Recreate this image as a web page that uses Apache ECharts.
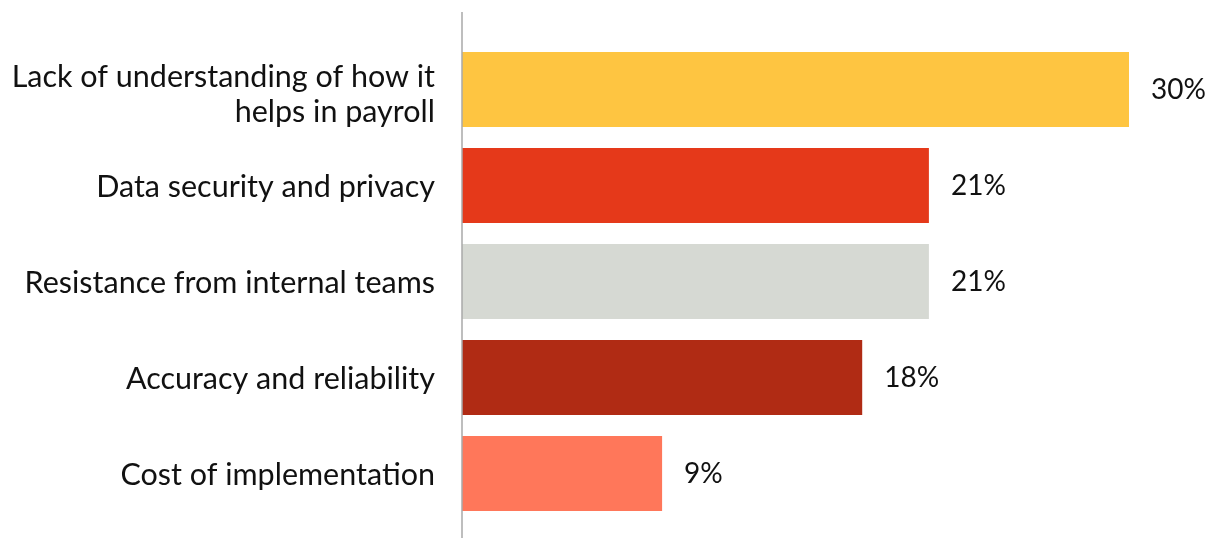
<!DOCTYPE html>
<html>
<head>
<meta charset="utf-8">
<script src="https://cdn.jsdelivr.net/npm/echarts@6/dist/echarts.min.js"></script>
<style>
  html, body { margin: 0; padding: 0; background: #ffffff; }
  #chart { width: 1216px; height: 538px; }
</style>
</head>
<body>
<div id="chart"></div>
<script>
// Barriers to adopting AI in payroll (share of respondents, %)
const categories = [
  'Lack of understanding of how it\nhelps in payroll',
  'Data security and privacy',
  'Resistance from internal teams',
  'Accuracy and reliability',
  'Cost of implementation'
];
const values = [30, 21, 21, 18, 9];
const barColors = ['#FEC541', '#E5391A', '#D6D9D3', '#B02B14', '#FF775A'];

const FONT = 'Lato, "Noto Sans", sans-serif';
const tokenStyle = { fontFamily: FONT, fontSize: 30.5, color: '#111111', lineHeight: 37, align: 'right' };

const chart = echarts.init(document.getElementById('chart'), null, { renderer: 'canvas' });

chart.setOption({
  animation: false,
  backgroundColor: '#ffffff',
  grid: { left: 462, right: 87, top: 41.5, bottom: 16.5, containLabel: false },
  xAxis: {
    type: 'value',
    min: 0,
    max: 30,
    show: false
  },
  yAxis: {
    type: 'category',
    data: categories,
    inverse: true,
    axisLine: { show: false },
    axisTick: { show: false },
    splitLine: { show: false },
    axisLabel: {
      margin: 27,
      color: '#111111',
      fontFamily: FONT,
      fontSize: 30.5,
      lineHeight: 37,
      align: 'right',
      // wrapped labels sit slightly lower in their band
      formatter: v => {
        const lines = v.split('\n');
        if (lines.length === 1) return '{one|' + v + '}';
        return lines.map((l, i) => (i === 0 ? '{first|' : '{t|') + l + '}').join('\n');
      },
      rich: {
        one: Object.assign({}, tokenStyle, { padding: [4, 0, 0, 0] }),
        first: Object.assign({}, tokenStyle, { padding: [12, 0, 0, 0] }),
        t: Object.assign({}, tokenStyle, { padding: [8, 0, 0, 0] })
      }
    }
  },
  series: [{
    type: 'bar',
    barWidth: 75,
    data: values.map((v, i) => ({ value: v, itemStyle: { color: barColors[i] } })),
    label: {
      show: true,
      position: 'right',
      distance: 22,
      color: '#111111',
      fontFamily: FONT,
      fontSize: 28,
      formatter: p => p.value + '%'
    }
  }]
});

// Vertical baseline at zero, running the full height of the chart
const x0 = chart.convertToPixel({ xAxisIndex: 0 }, 0);
chart.setOption({
  graphic: [{
    type: 'line',
    shape: { x1: x0, y1: 12, x2: x0, y2: 538 },
    style: { stroke: '#A8A8A8', lineWidth: 1.5 },
    z: 10
  }]
});
</script>
</body>
</html>
